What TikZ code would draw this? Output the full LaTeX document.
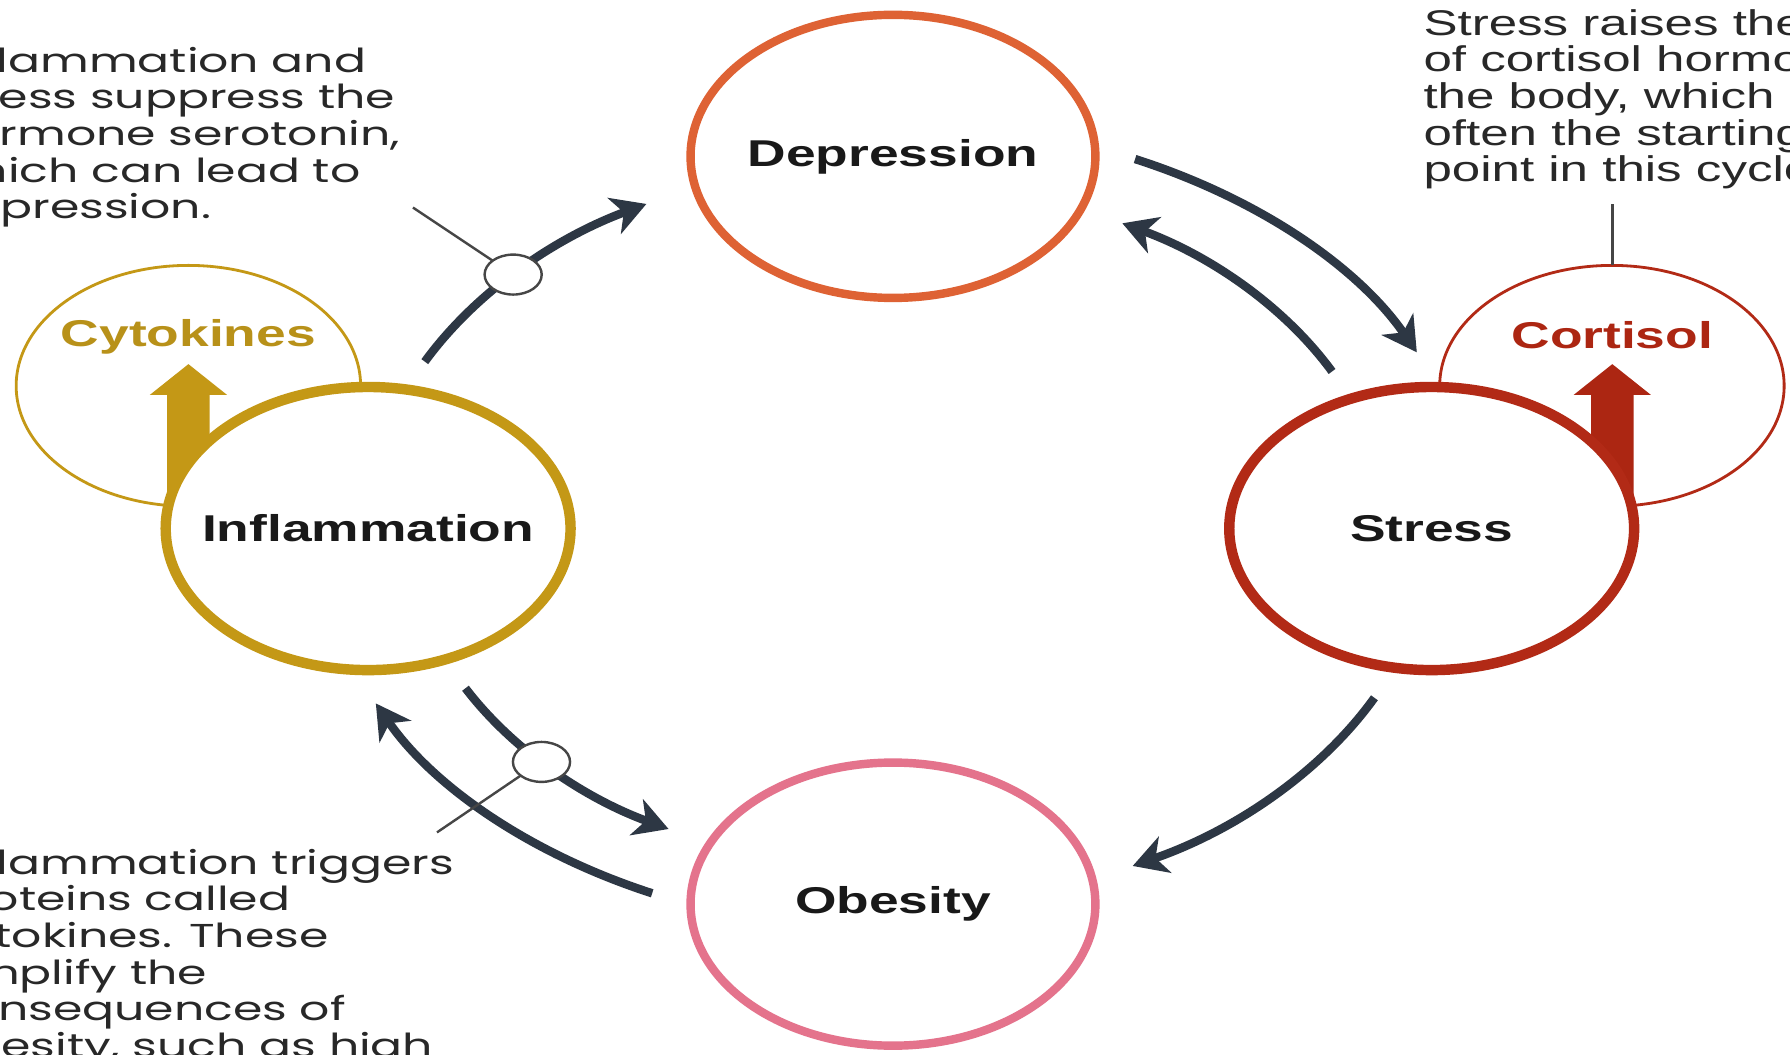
\documentclass[tikz,border=0pt]{standalone}
\usepackage{fontspec}
\usetikzlibrary{arrows.meta,calc}
\newfontfamily\bodyfont{Poppins}
\newfontfamily\notefont{Liberation Sans}
\newfontfamily\labelfont{Liberation Sans}
\definecolor{depcol}{RGB}{222,98,52}
\definecolor{strcol}{RGB}{178,42,22}
\definecolor{infcol}{RGB}{196,152,22}
\definecolor{obecol}{RGB}{228,115,140}
\definecolor{arrcol}{RGB}{45,55,68}
\definecolor{txtcol}{RGB}{40,40,40}
\definecolor{leadcol}{RGB}{70,70,70}
\definecolor{cytcol}{RGB}{184,145,25}
\definecolor{corcol}{RGB}{172,38,18}
\begin{document}
\begin{tikzpicture}[x=0.1mm,y=0.1mm,xscale=1.43,transform shape,
  stage/.style={circle,draw,fill=white,minimum size=24.8mm,inner sep=0pt,outer sep=0pt,
    text=black!90,font=\labelfont\bfseries\fontsize{9.3}{11}\selectfont},
  side/.style={circle,draw,line width=0.7pt,minimum size=21.1mm,inner sep=0pt,outer sep=0pt},
  sidelabel/.style={font=\labelfont\bfseries\fontsize{9.3}{11}\selectfont,inner sep=0pt},
  loop/.style={arrcol,line width=2.1pt,-{Stealth[length=8.5pt,width=9.5pt,inset=2.5pt]}},
  marker/.style={circle,draw=leadcol,fill=white,line width=0.6pt,minimum size=3.5mm,inner sep=0pt,outer sep=0pt},
  leader/.style={leadcol,line width=0.6pt},
  note/.style={anchor=north west,inner sep=0pt,align=left,text=txtcol}]

% canvas
\path[use as bounding box] (0,0) rectangle (1096.5,924);
\fill[white] (0,0) rectangle (1096.5,924);
\clip (0,0) rectangle (1096.5,924);

\coordinate (hub) at (547,461);

% hormone circles behind the main stages
\node[side,draw=infcol] (cyto) at (115.4,586) {};
\node[side,draw=strcol] (cort) at (987.4,586) {};

% block arrows rising into the hormone circles
\begin{scope}[shift={(cyto)}]
  \fill[infcol] (-13,-125) -- (-13,-8) -- (-23.7,-8) -- (0,19) -- (23.7,-8) -- (13,-8) -- (13,-125) -- cycle;
\end{scope}
\begin{scope}[shift={(cort)}]
  \fill[corcol] (-13,-125) -- (-13,-8) -- (-23.7,-8) -- (0,19) -- (23.7,-8) -- (13,-8) -- (13,-125) -- cycle;
\end{scope}

% main stages
\node[stage,draw=depcol,line width=2.1pt] (depr) at (547,787) {Depression};
\node[stage,draw=strcol,line width=2.6pt] (stress) at (877,461) {Stress};
\node[stage,draw=infcol,line width=2.6pt] (infl) at (225.5,461) {Inflammation};
\node[stage,draw=obecol,line width=2.1pt] (obes) at (547,132) {Obesity};

\node[sidelabel,text=cytcol] (cytotxt) at ($(cyto)+(0,43)$) {Cytokines};
\node[sidelabel,text=corcol] (corttxt) at ($(cort)+(0,44)$) {Cortisol};

% the cycle of arrows
\draw[loop] ($(hub)+(153:322)$) arc[start angle=153,end angle=118,radius=322];   % inflammation -> depression
\draw[loop] ($(hub)+(65.4:356)$) arc[start angle=65.4,end angle=25.7,radius=356]; % depression -> stress
\draw[loop] ($(hub)+(27.1:302)$) arc[start angle=27.1,end angle=62.3,radius=302]; % stress -> depression
\draw[loop] ($(hub)+(-26.7:330)$) arc[start angle=-26.7,end angle=-63.6,radius=330]; % stress -> obesity
\draw[loop] ($(hub)+(208.1:297)$) arc[start angle=208.1,end angle=242.4,radius=297]; % inflammation -> obesity
\draw[loop] ($(hub)+(245.2:352)$) arc[start angle=245.2,end angle=205.8,radius=352]; % obesity -> inflammation

% callout markers and leader lines
\node[marker] (m1) at ($(hub)+(136.3:322)$) {};
\node[marker] (m2) at ($(hub)+(223.5:297)$) {};
\coordinate (l1) at ($(hub)+(136.3:407)$);
\coordinate (l2) at ($(hub)+(223.6:386)$);
\draw[leader] (m1.136.3) -- (l1);
\draw[leader] (m2.223.6) -- (l2);
\draw[leader] (cort.north) -- ++(0,54) coordinate (l3);

% explanatory notes
\node[note,font=\bodyfont\fontsize{8.25}{9.14}\selectfont] (noteA) at (-38,883.5)
  {Inflammation and\\stress suppress the\\hormone serotonin,\\which can lead to\\depression.};
\node[note,font=\bodyfont\fontsize{8.25}{9.14}\selectfont] (noteB) at (-38,181)
  {Inflammation triggers\\proteins called\\cytokines. These\\amplify the\\consequences of\\obesity, such as high};
\node[note,font=\notefont\fontsize{8.9}{9.14}\selectfont] (noteC) at (871.3,916.5)
  {Stress raises the\\of cortisol hormone\\the body, which\\often the starting\\point in this cycle.};
\end{tikzpicture}
\end{document}
